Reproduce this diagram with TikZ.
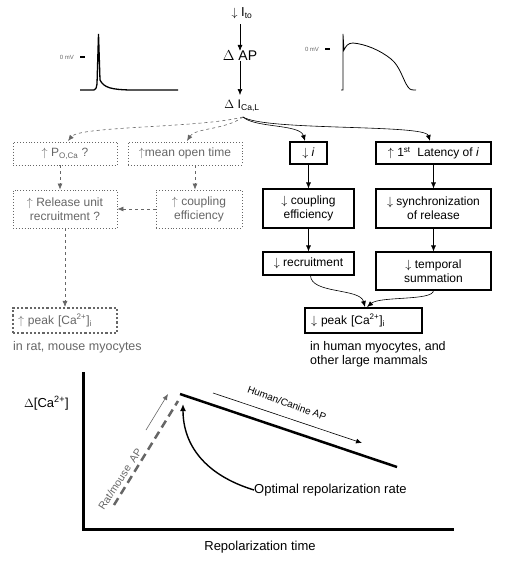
\documentclass[tikz,border=0pt]{standalone}
\usepackage{fontspec}
\setmainfont{Liberation Sans}
\usetikzlibrary{arrows.meta}
\definecolor{dgray}{gray}{0.40}
\begin{document}
\begin{tikzpicture}[x=1pt,y=-1pt,
  every node/.style={font=\fontsize{12}{14}\selectfont},
  tip/.style={-{Latex[length=6pt,width=5pt]}},
  grayarr/.style={tip,draw=dgray,dashed,line width=0.6pt},
  blkarr/.style={tip,draw=black,line width=0.6pt},
  dbox/.style={draw=dgray,dotted,line width=0.9pt,text=dgray,align=center,inner sep=1pt},
  sbox/.style={draw=black,line width=1.1pt,align=center,inner sep=1pt},
  lbl/.style={inner sep=0pt}]
\useasboundingbox (0,0) rectangle (512,576);
% top chain
\node[lbl,font=\fontsize{13}{15}\selectfont] (ito) at (242,13) {$\downarrow$\ I\textsubscript{\fontsize{8.5}{9}\selectfont to}};
\node[lbl,font=\fontsize{14}{16}\selectfont] (ap) at (240,56) {$\Delta$ AP};
\node[lbl,font=\fontsize{12.5}{15}\selectfont] (ical) at (242,106) {$\Delta$ I\textsubscript{\fontsize{8.5}{9}\selectfont Ca,L}};
\draw[blkarr] (240,24) -- (ap.north);
\draw[blkarr] (ap.south) -- (240,95);
% AP traces
\node[lbl,font=\fontsize{6}{7}\selectfont,text=dgray] (zl) at (67,57) {0 mV};
\draw[line width=1.5pt] (80,57) -- (85,57);
\draw[line width=1.3pt] (80,90) -- (94,90) .. controls (96,89) .. (97,84) -- (98.5,34) -- (100,80) .. controls (104,88) and (112,89.5) .. (130,90) -- (178,90);
\node[lbl,font=\fontsize{6}{7}\selectfont,text=dgray] (zr) at (312,49) {0 mV};
\draw[line width=1.5pt] (325,49) -- (330,49);
\draw[line width=0.8pt] (341,90) -- (343,90) -- (343,34) -- (344,50) .. controls (346,46) and (348,43) .. (353,43) .. controls (365,44) and (380,50) .. (391,59) .. controls (400,66) and (403,80) .. (408,87) .. controls (410,90) and (412,90) .. (416,90);
% left (dotted) boxes
\node[dbox,minimum width=104pt,minimum height=23pt] (po) at (65,153.5) {$\uparrow$ P\textsubscript{\fontsize{8}{9}\selectfont O,Ca} ?};
\node[dbox,minimum width=114pt,minimum height=23pt] (mot) at (185,153.5) {$\uparrow$mean open time};
\node[dbox,minimum width=104pt,minimum height=38pt] (rur) at (65,209) {$\uparrow$ Release unit\\recruitment ?};
\node[dbox,minimum width=86pt,minimum height=38pt] (ce1) at (199,209) {$\uparrow$ coupling\\efficiency};
\node[dbox,line width=2.2pt,minimum width=104pt,minimum height=25pt,text width=94pt,align=left] (pk1) at (65,320.5) {$\uparrow$ peak [Ca\textsuperscript{2+}]\textsubscript{i}};
\node[lbl,text=dgray,anchor=west,font=\fontsize{12.5}{15}\selectfont] (rat) at (13,347) {in rat, mouse myocytes};
% right (solid) boxes
\node[sbox,minimum width=37pt,minimum height=22pt] (di) at (308.5,153) {$\downarrow$ \textit{i}};
\node[sbox,minimum width=115pt,minimum height=22pt] (lat) at (433.5,153) {$\uparrow$ 1\textsuperscript{st}\ \ Latency of \textit{i}};
\node[sbox,minimum width=91pt,minimum height=39pt] (ce2) at (308.5,208.5) {$\downarrow$ coupling\\efficiency};
\node[sbox,minimum width=115pt,minimum height=39pt] (syn) at (433.5,208.5) {$\downarrow$ synchronization\\of release};
\node[sbox,minimum width=91pt,minimum height=23pt] (rec) at (308.5,263.5) {$\downarrow$ recruitment};
\node[sbox,minimum width=115pt,minimum height=38pt] (tem) at (433.5,271) {$\downarrow$ temporal\\summation};
\node[sbox,line width=2.6pt,minimum width=117pt,minimum height=25pt,text width=105pt,align=left] (pk2) at (363.5,320.5) {$\downarrow$ peak [Ca\textsuperscript{2+}]\textsubscript{i}};
\node[lbl,anchor=north west,align=left,font=\fontsize{12.5}{14.5}\selectfont] (hum) at (310,341) {in human myocytes, and\\other large mammals};
% connectors from I_Ca,L
\draw[grayarr] (243,117) .. controls (200,128) and (80,126) .. (68,141);
\draw[grayarr] (243,117) .. controls (225,130) and (195,128) .. (187,141);
\draw[blkarr] (243,117) .. controls (255,128) and (300,124) .. (305,141);
\draw[blkarr] (243,117) .. controls (265,131) and (425,124) .. (430,141);
% left chain
\draw[grayarr] ([xshift=-5pt]po.south) -- ([xshift=-5pt]rur.north);
\draw[grayarr] ([xshift=-4pt]ce1.north |- mot.south) -- ([xshift=-4pt]ce1.north);
\draw[grayarr] (ce1.west) -- (rur.east);
\draw[grayarr] (rur.south) -- (pk1.north);
% right chain
\draw[blkarr] (di.south) -- (ce2.north);
\draw[blkarr] (ce2.south) -- (rec.north);
\draw[blkarr] (lat.south) -- (syn.north);
\draw[blkarr] (syn.south) -- (tem.north);
\draw[blkarr] ([xshift=2pt]rec.south) .. controls (311,294) and (360,288) .. (365,307);
\draw[blkarr] (tem.south) .. controls (433,301) and (380,296) .. (367,307);
% graph
\draw[line width=3pt] (83,372) -- (83,529) -- (454,529);
\node[lbl,anchor=west,font=\fontsize{13}{15}\selectfont] (ylab) at (24,403) {$\Delta$[Ca\textsuperscript{2+}]};
\node[lbl,font=\fontsize{13}{15}\selectfont] (xlab) at (260,547) {Repolarization time};
\draw[line width=2.5pt,dgray,dash pattern=on 8pt off 5pt] (114,505) -- (178,401);
\draw[line width=2.5pt] (180,394) -- (397,467);
\draw[tip,line width=0.6pt] (213,393) -- (362,443);
\node[lbl,rotate=-20,font=\fontsize{10}{11}\selectfont] (hc) at (287,403) {Human/Canine AP};
\draw[tip,line width=0.6pt,draw=dgray] (146,430) -- (168,394);
\node[lbl,rotate=57,text=dgray,font=\fontsize{10.5}{11}\selectfont] (rm) at (120,479) {Rat/mouse\ \ AP};
\node[lbl,anchor=west,font=\fontsize{13}{15}\selectfont] (opt) at (254,490) {Optimal repolarization rate};
\draw[line width=1.4pt,-{Latex[length=7pt,width=6pt]}] (opt.west) .. controls (205,475) and (183,445) .. (183,404);
\end{tikzpicture}
\end{document}
